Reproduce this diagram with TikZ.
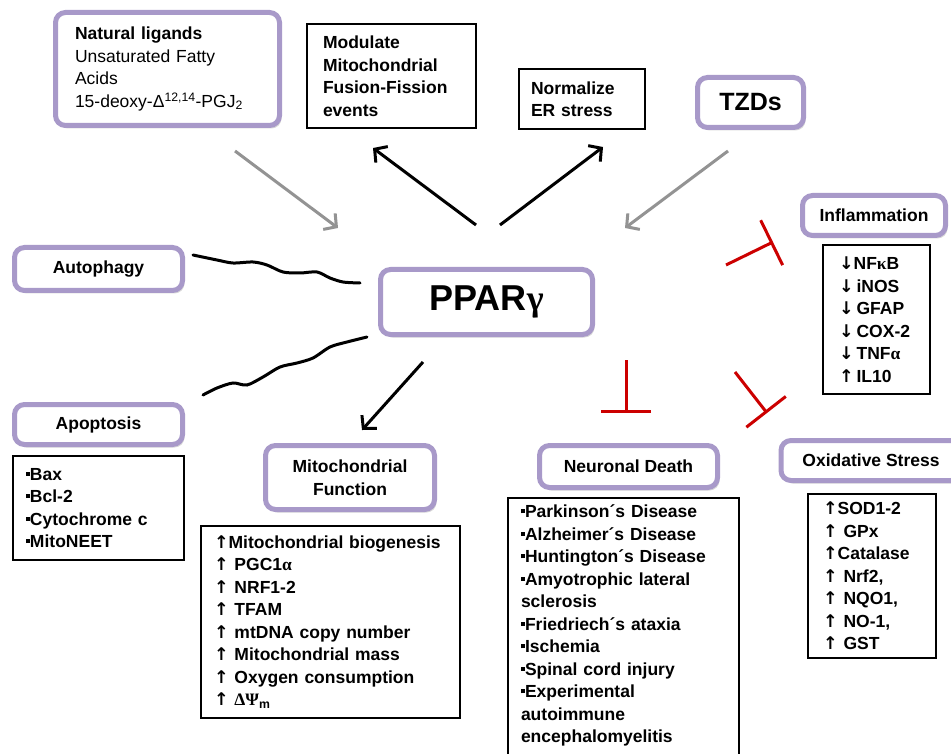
\documentclass[tikz,border=0pt]{standalone}
\usepackage{fontspec}
\setmainfont{Liberation Sans}
\newfontfamily\symfont{Liberation Serif}
\newfontfamily\arrfont{DejaVu Sans}
\usetikzlibrary{arrows.meta,shadows}
\definecolor{lav}{RGB}{168,153,201}
\definecolor{inhred}{RGB}{204,0,0}
\newcommand{\sqb}{\raisebox{.26em}{\rule{4pt}{4pt}}}
\newcommand{\upar}{{\arrfont\bfseries ↑}}
\newcommand{\dnar}{{\arrfont\bfseries ↓}}

\begin{document}
\begin{tikzpicture}[x=1pt,y=-1pt,
    txt/.style={font=\fontsize{17.5}{22.5}\selectfont\bfseries},
    purplebox/.style={draw=lav,line width=5pt,rounded corners=10pt,fill=white,
      drop shadow={opacity=.3,shadow xshift=2pt,shadow yshift=-3pt},align=center,txt,inner sep=0pt},
    blackbox/.style={draw,line width=2pt,align=left,anchor=north west,txt,inner ysep=0pt},
    act/.style={line width=3pt,-{Straight Barb[length=9pt,width=20pt]}},
    ligand/.style={act,draw=gray!85},
    inhib/.style={draw=inhred,line width=3pt,-{Bar[width=50pt]}},
    wave/.style={line width=3pt,line cap=round}]
  \fill[white] (0,0) rectangle (951,754);
  \useasboundingbox (0,0) rectangle (951,754);

  % top row
  \node[purplebox,align=left,minimum width=224pt,minimum height=113pt,text width=185pt] (natlig) at (167.5,69)
    {Natural ligands\\\mdseries Unsaturated Fatty\\\mdseries Acids\\\mdseries 15-deoxy-Δ\textsuperscript{12,14}-PGJ\textsubscript{2}};
  \node[blackbox,inner xsep=16pt,text width=137pt,minimum height=104pt] (modul) at (306,23)
    {Modulate\\Mitochondrial\\Fusion-Fission\\events};
  \node[blackbox,inner xsep=12pt,text width=102pt,minimum height=60pt] (ernorm) at (518,68)
    {Normalize\\ER stress};
  \node[purplebox,minimum width=106pt,minimum height=50pt,font=\fontsize{25}{28}\selectfont\bfseries] (tzd) at (750.5,102.5) {TZDs};

  % centre
  \node[purplebox,minimum width=212pt,minimum height=65pt,font=\fontsize{36}{40}\selectfont\bfseries] (ppar) at (486.5,302)
    {PPAR{\symfont γ}};

  % left side
  \node[purplebox,minimum width=168pt,minimum height=43pt] (autoph) at (98.5,269) {Autophagy};
  \node[purplebox,minimum width=168pt,minimum height=40pt] (apopt) at (98.5,424.5) {Apoptosis};
  \node[blackbox,inner xsep=13pt,text width=145pt,minimum height=104pt] (apolist) at (12,455)
    {\sqb Bax\\\sqb Bcl-2\\\sqb Cytochrome c\\\sqb MitoNEET};

  % bottom
  \node[purplebox,minimum width=169pt,minimum height=64pt] (mitofn) at (350,477.5) {Mitochondrial\\Function};
  \node[blackbox,inner xsep=13pt,text width=233pt,minimum height=192pt] (mitolist) at (200,525)
    {\upar Mitochondrial~biogenesis\\\upar\ PGC1{\symfont α}\\\upar\ NRF1-2\\\upar\ TFAM\\\upar\ mtDNA copy number\\\upar\ Mitochondrial mass\\\upar\ Oxygen consumption\\\upar\ {\symfont ΔΨ}\textsubscript{m}};
  \node[purplebox,minimum width=178pt,minimum height=42pt] (neurod) at (628.5,466.5) {Neuronal Death};
  \node[blackbox,inner xsep=13pt,inner ysep=7pt,text width=205pt] (neurlist) at (507,497)
    {\sqb Parkinson´s Disease\\\sqb Alzheimer´s Disease\\\sqb Huntington´s~Disease\\\sqb Amyotrophic lateral\\sclerosis\\\sqb Friedriech´s ataxia\\\sqb Ischemia\\\sqb Spinal cord injury\\\sqb Experimental\\autoimmune\\encephalomyelitis\\\mbox{}};

  % right side
  \node[purplebox,minimum width=143pt,minimum height=40pt] (inflam) at (874,215.5) {Inflammation};
  \node[blackbox,inner xsep=16pt,text width=75pt,minimum height=149pt] (infllist) at (822,244)
    {\dnar NF{\symfont κ}B\\\dnar\,iNOS\\\dnar\,GFAP\\\dnar\,COX-2\\\dnar\,TNF{\symfont α}\\\upar\,IL10};
  \node[purplebox,minimum width=180pt,minimum height=40pt] (oxstr) at (871,460.5) {Oxidative Stress};
  \node[blackbox,inner xsep=15pt,text width=98pt,minimum height=164pt] (oxlist) at (807,493)
    {\upar SOD1-2\\\upar\ GPx\\\upar Catalase\\\upar\ Nrf2,\\\upar\ NQO1,\\\upar\ NO-1,\\\upar\ GST};

  % connectors
  \coordinate (nl0) at (235,151); \coordinate (nl1) at (338,228);
  \coordinate (tz0) at (728,151); \coordinate (tz1) at (625,228);
  \coordinate (pm0) at (476,225); \coordinate (pm1) at (373,148);
  \coordinate (pe0) at (500,225); \coordinate (pe1) at (603,147);
  \coordinate (pf0) at (423,362); \coordinate (pf1) at (362,430);
  \coordinate (ri0) at (726,265); \coordinate (ri1) at (773,242);
  \coordinate (rn0) at (626,360); \coordinate (rn1) at (626,413);
  \coordinate (ro0) at (735,372); \coordinate (ro1) at (767,413);
  \draw[ligand] (nl0) -- (nl1);
  \draw[ligand] (tz0) -- (tz1);
  \draw[act] (pm0) -- (pm1);
  \draw[act] (pe0) -- (pe1);
  \draw[act] (pf0) -- (pf1);
  \draw[inhib] (ri0) -- (ri1);
  \draw[inhib] (rn0) -- (rn1);
  \draw[inhib] (ro0) -- (ro1);
  \draw[wave] plot[smooth] coordinates {(193,255) (217,260) (233,263) (253,262) (267,265) (283,272) (300,273) (317,272) (330,278) (343,282) (360,283)};
  \draw[wave] plot[smooth] coordinates {(203,395) (217,388) (233,383) (247,385) (263,377) (280,367) (297,363) (313,358) (330,347) (347,342) (367,337)};
\end{tikzpicture}
\end{document}
